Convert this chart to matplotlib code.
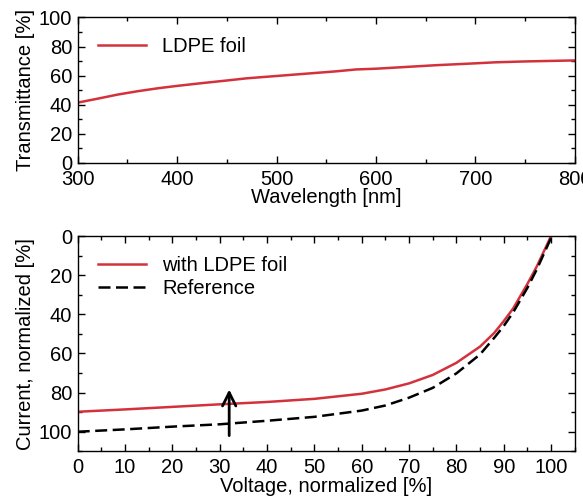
import matplotlib
matplotlib.use('Agg')
import matplotlib.pyplot as plt
from matplotlib.ticker import MultipleLocator

plt.rcParams['font.family'] = ['Liberation Sans', 'DejaVu Sans']
plt.rcParams['font.size'] = 14.5

# transmittance of the foil
wavelength = [300, 320, 340, 360, 380, 400, 425, 450, 470, 500, 530, 560, 580, 600,
              630, 660, 700, 720, 750, 800]
transmittance = [41.5, 44.2, 47.0, 49.3, 51.3, 53.0, 54.9, 56.7, 58.2, 59.8, 61.4,
                 63.0, 64.3, 64.8, 66.0, 67.2, 68.5, 69.2, 69.8, 70.5]

# IV curves, normalized
voltage = [0, 10, 20, 30, 40, 50, 60, 65, 70, 75, 80, 85, 88, 90, 92, 95, 97, 100]
current_foil = [89.8, 88.6, 87.3, 86.0, 84.8, 83.2, 80.6, 78.4, 75.3, 71.0, 64.8, 56.5,
                49.5, 43.5, 37.0, 24.5, 15.5, 0.0]
current_ref = [100.0, 98.8, 97.4, 96.2, 94.4, 92.4, 89.2, 86.6, 82.6, 77.6, 70.2, 60.5,
               52.0, 46.0, 39.0, 26.5, 17.0, 1.0]

red = '#d3323c'
fs = 14.5

fig = plt.figure(figsize=(5.83, 5.0), dpi=100)
ax1 = fig.add_axes([0.1333, 0.674, 0.8525, 0.291])
ax2 = fig.add_axes([0.1333, 0.0974, 0.8525, 0.4306])


def style(ax):
    ax.tick_params(which='both', direction='in', top=True, right=True, width=1.0)
    ax.tick_params(which='major', length=5, labelsize=fs)
    ax.tick_params(axis='x', which='major', pad=5)
    ax.tick_params(axis='y', which='major', pad=4)
    ax.tick_params(which='minor', length=3)
    for s in ax.spines.values():
        s.set_linewidth(1.0)


ax1.plot(wavelength, transmittance, color=red, lw=1.8, label='LDPE foil')
ax1.set_xlim(300, 800)
ax1.set_ylim(0, 100)
ax1.xaxis.set_major_locator(MultipleLocator(100))
ax1.xaxis.set_minor_locator(MultipleLocator(50))
ax1.yaxis.set_major_locator(MultipleLocator(20))
ax1.yaxis.set_minor_locator(MultipleLocator(10))
ax1.set_xlabel('Wavelength [nm]', fontsize=fs, labelpad=-1)
ax1.set_ylabel('Transmittance [%]', fontsize=fs, labelpad=3)
style(ax1)
ax1.legend(loc='center left', frameon=False, fontsize=fs, handlelength=2.4,
           handletextpad=0.8, borderaxespad=0.6, bbox_to_anchor=(0.0, 0.8))

ax2.plot(voltage, current_foil, color=red, lw=1.8, label='with LDPE foil')
ax2.plot(voltage, current_ref, color='black', lw=1.8, ls=(0, (4.8, 2.2)), label='Reference')
ax2.annotate('', xy=(32, 77), xytext=(32, 103.4),
             arrowprops=dict(arrowstyle='->', color='black', lw=2, mutation_scale=24))
ax2.set_xlim(0, 105)
ax2.set_ylim(110, 0)
ax2.xaxis.set_major_locator(MultipleLocator(10))
ax2.xaxis.set_minor_locator(MultipleLocator(5))
ax2.yaxis.set_major_locator(MultipleLocator(20))
ax2.yaxis.set_minor_locator(MultipleLocator(10))
ax2.set_xlabel('Voltage, normalized [%]', fontsize=fs, labelpad=0)
ax2.set_ylabel('Current, normalized [%]', fontsize=fs, labelpad=3)
style(ax2)
ax2.legend(loc='center left', frameon=False, fontsize=fs, handlelength=2.4,
           handletextpad=0.8, borderaxespad=0.6, labelspacing=0.2,
           bbox_to_anchor=(0.0, 0.811))

fig.savefig('out.png', dpi=100)
